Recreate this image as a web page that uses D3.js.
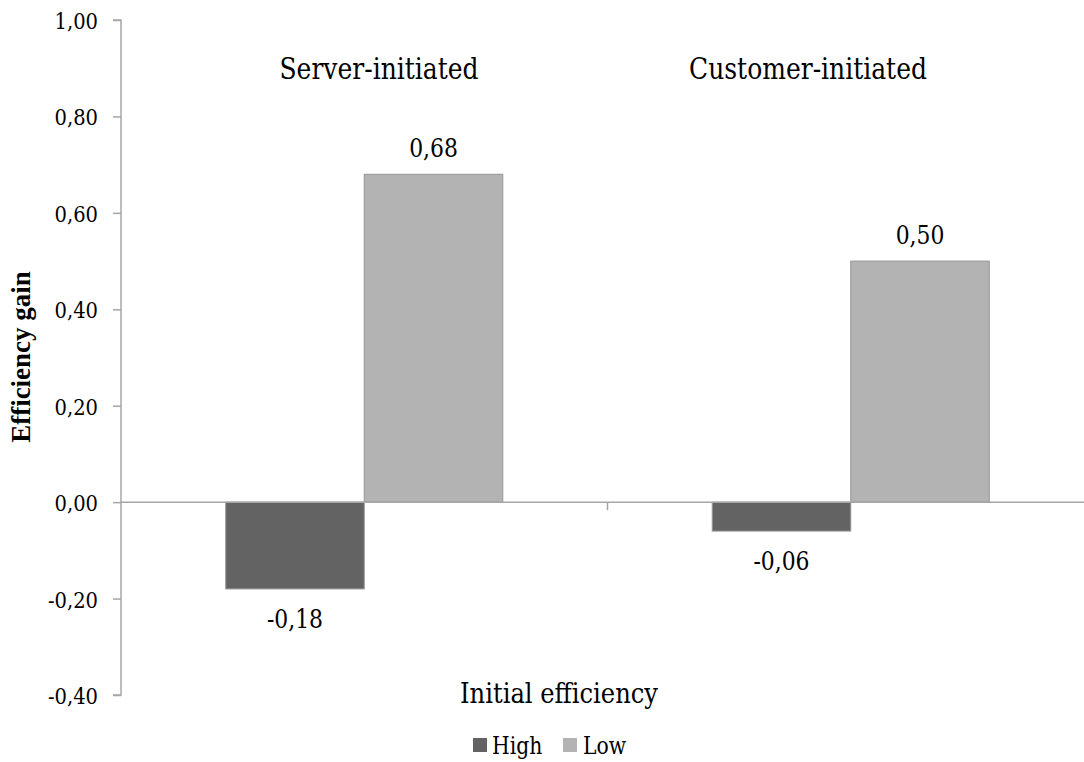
<!DOCTYPE html>
<html><head><meta charset="utf-8">
<script src="https://cdn.jsdelivr.net/npm/d3@7"></script>
<style>body{margin:0;background:#fff}svg{display:block}</style>
</head><body><svg id="c" width="1084" height="762"></svg>
<script>
const categories = ["Server-initiated", "Customer-initiated"];
const seriesNames = ["High", "Low"];
const highValues = [-0.18, -0.06];
const lowValues = [0.68, 0.50];
const yTicks = [-0.4, -0.2, 0, 0.2, 0.4, 0.6, 0.8, 1.0];
const colors = {High: "#636363", Low: "#b3b3b3"};

const svg = d3.select("#c");

// DejaVu Serif renders reliably here; squeeze it to Times-like proportions
const BASE = 30;
const FAM = '"DejaVu Serif", serif';
const probe = svg.append("text").attr("font-family", FAM).attr("font-size", BASE).text("Server-initiated");
const ratio = probe.node().getComputedTextLength() / BASE;
probe.remove();
const TIMES_RATIO = 6.221, CAP_FIX = 0.908;

const mLeft = 121, mTop = 20, mBottom = 695, mRight = 1094;
const y = d3.scaleLinear().domain([-0.4, 1.0]).range([mBottom, mTop]);
const x = d3.scaleBand().domain(categories).range([mLeft, mRight]).paddingInner(0).paddingOuter(0);
const xs = d3.scaleBand().domain(seriesNames).range([0, x.bandwidth()]).paddingInner(0).paddingOuter(0.756);
const fmt = v => d3.format(".2f")(v).replace(".", ",").replace("−", "-");
const axisColor = "#a6a6a6";

function styleText(sel, tx, ty, size, opts = {}) {
  const rot = opts.rotate ? ` rotate(${opts.rotate})` : "";
  if (opts.weight === "bold") {
    sel.attr("transform", `translate(${tx},${ty})${rot}`)
      .attr("font-family", '"Liberation Serif", serif').attr("font-size", size).attr("font-weight", "bold");
  } else {
    const hx = (TIMES_RATIO * size) / (ratio * BASE);
    const vy = (CAP_FIX * size) / BASE;
    sel.attr("transform", `translate(${tx},${ty})${rot} scale(${hx},${vy})`)
      .attr("font-family", FAM).attr("font-size", BASE).attr("font-weight", "normal");
  }
  return sel.attr("fill", "#000").attr("text-anchor", opts.anchor || "start");
}
function addText(parent, tx, ty, str, size, opts = {}) {
  return styleText(parent.append("text").text(str), tx, ty, size, opts);
}

// y axis
const ya = svg.append("g").attr("transform", `translate(${mLeft},0)`)
  .call(d3.axisLeft(y).tickValues(yTicks).tickSize(8).tickPadding(15).tickFormat(fmt));
ya.attr("font-family", null).attr("font-size", null);
ya.selectAll("path,line").attr("stroke", axisColor).attr("stroke-width", 1.5);
ya.select(".domain").attr("d", `M-8,${y(1)}H0V${y(-0.4)}H-8`);
ya.selectAll("text").each(function () {
  const t = d3.select(this).attr("x", null).attr("dy", null);
  styleText(t, -23, 8.5, 25, {anchor: "end"});
});

// bars
const data = categories.map((c, i) => ({cat: c, vals: [{s: "High", v: highValues[i]}, {s: "Low", v: lowValues[i]}]}));
const g = svg.append("g");
data.forEach(d => {
  d.vals.forEach(e => {
    const bx = x(d.cat) + xs(e.s);
    g.append("rect").attr("x", bx).attr("width", xs.bandwidth())
      .attr("y", y(Math.max(0, e.v))).attr("height", Math.abs(y(e.v) - y(0)))
      .attr("fill", colors[e.s]).attr("stroke", "#959595").attr("stroke-width", 1);
  });
});

// x axis
svg.append("line").attr("x1", mLeft).attr("x2", mRight).attr("y1", y(0)).attr("y2", y(0))
  .attr("stroke", axisColor).attr("stroke-width", 1.5);
svg.append("line").attr("x1", x(categories[1])).attr("x2", x(categories[1]))
  .attr("y1", y(0)).attr("y2", y(0) + 8).attr("stroke", axisColor).attr("stroke-width", 1.5);

// value labels
data.forEach(d => {
  d.vals.forEach(e => {
    const cx = x(d.cat) + xs(e.s) + xs.bandwidth() / 2;
    addText(svg, cx, e.v >= 0 ? y(e.v) - 17 : y(e.v) + 39, fmt(e.v), 28, {anchor: "middle"});
  });
});

// category labels
const catX = [379, 808];
categories.forEach((c, i) => addText(svg, catX[i], 79, c, 32, {anchor: "middle"}));

// axis titles
addText(svg, 559, 703, "Initial efficiency", 31, {anchor: "middle"});
addText(svg, 30, 357, "Efficiency gain", 27, {anchor: "middle", rotate: -90, weight: "bold"});

// legend
const leg = [{s: "High", x: 473, tx: 492}, {s: "Low", x: 563, tx: 583}];
leg.forEach(l => {
  svg.append("rect").attr("x", l.x).attr("y", 738).attr("width", 14).attr("height", 14).attr("fill", colors[l.s]);
  addText(svg, l.tx, 754, l.s, 26);
});
</script></body></html>
